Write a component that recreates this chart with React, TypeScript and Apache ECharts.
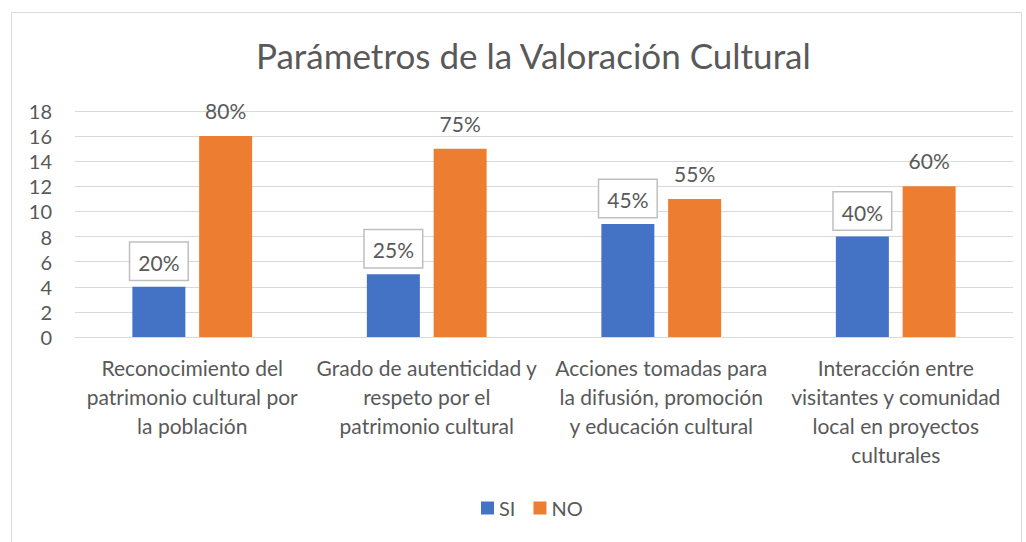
import React, { useEffect, useRef } from "react";
import * as echarts from "echarts";

const categories = [
  "Reconocimiento del\npatrimonio cultural por\nla población",
  "Grado de autenticidad y\nrespeto por el\npatrimonio cultural",
  "Acciones tomadas para\nla difusión, promoción\ny educación cultural",
  "Interacción entre\nvisitantes y comunidad\nlocal en proyectos\nculturales",
];
const siValues = [4, 5, 9, 8];
const noValues = [16, 15, 11, 12];
const siLabels = ["20%", "25%", "45%", "40%"];
const noLabels = ["80%", "75%", "55%", "60%"];
const yTicks = { min: 0, max: 18, interval: 2 };

const FONT = "Lato, 'Open Sans', sans-serif";
const TXT = "#595959";

export default function App() {
  const ref = useRef<HTMLDivElement>(null);
  useEffect(() => {
    document.body.style.margin = "0";
    const chart = echarts.init(ref.current!, null, { renderer: "svg" });
    chart.setOption({
      animation: false,
      backgroundColor: "#ffffff",
      textStyle: { fontFamily: FONT },
      title: {
        text: "Parámetros de la Valoración Cultural",
        left: 251,
        top: 32,
        textStyle: { fontFamily: FONT, fontSize: 35, fontWeight: "normal", color: TXT },
      },
      graphic: [
        {
          type: "rect",
          shape: { x: 11.5, y: 12.5, width: 1010, height: 540 },
          style: { fill: "none", stroke: "#d9d9d9", lineWidth: 1 },
          silent: true,
        },
      ],
      legend: {
        bottom: 19,
        left: 476,
        itemWidth: 13,
        itemHeight: 13,
        itemGap: 18,
        icon: "rect",
        textStyle: { fontFamily: FONT, fontSize: 20, color: TXT },
        data: ["SI", "NO"],
      },
      grid: { left: 75, right: 13, top: 111, bottom: 205, containLabel: false },
      xAxis: {
        type: "category",
        data: categories,
        axisLine: { lineStyle: { color: "#d9d9d9", width: 1 } },
        axisTick: { show: false },
        axisLabel: {
          interval: 0,
          fontFamily: FONT,
          fontSize: 21,
          lineHeight: 29,
          color: TXT,
          margin: 16,
        },
      },
      yAxis: {
        type: "value",
        min: yTicks.min,
        max: yTicks.max,
        interval: yTicks.interval,
        axisLine: { show: false },
        axisTick: { show: false },
        axisLabel: { fontFamily: FONT, fontSize: 20, color: TXT, margin: 23 },
        splitLine: { lineStyle: { color: "#d9d9d9", width: 1 } },
      },
      series: [
        {
          name: "SI",
          type: "bar",
          data: siValues,
          barWidth: 53,
          barGap: "26%",
          itemStyle: { color: "#4472C4" },
          label: {
            show: true,
            position: "top",
            distance: 7,
            formatter: (p: any) => siLabels[p.dataIndex],
            fontFamily: FONT,
            fontSize: 21,
            color: TXT,
            backgroundColor: "#ffffff",
            borderColor: "#bfbfbf",
            borderWidth: 1.5,
            padding: [9, 8, 7, 8],
          },
        },
        {
          name: "NO",
          type: "bar",
          data: noValues,
          barWidth: 53,
          itemStyle: { color: "#ED7D31" },
          label: {
            show: true,
            position: "top",
            distance: 15,
            formatter: (p: any) => noLabels[p.dataIndex],
            fontFamily: FONT,
            fontSize: 21,
            color: TXT,
          },
        },
      ],
    });
    return () => chart.dispose();
  }, []);
  return <div ref={ref} style={{ width: 1026, height: 542 }} />;
}
